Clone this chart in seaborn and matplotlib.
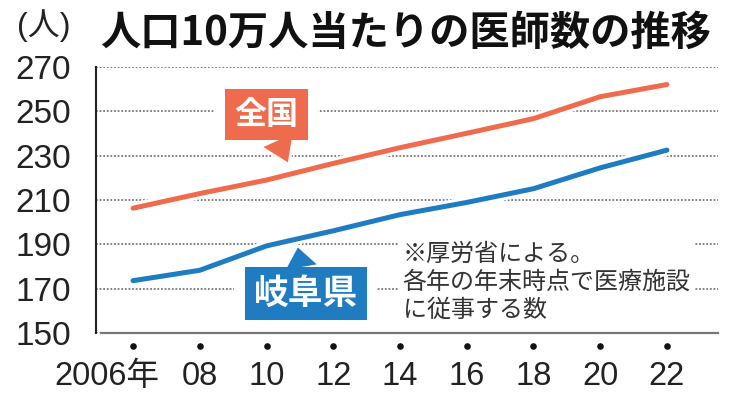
import numpy as np
import pandas as pd
import matplotlib
matplotlib.use("Agg")
import matplotlib.pyplot as plt
import matplotlib.patheffects as pe
import matplotlib.transforms as mtransforms
import seaborn as sns

years = [2006, 2008, 2010, 2012, 2014, 2016, 2018, 2020, 2022]
year_labels = ["2006年", "08", "10", "12", "14", "16", "18", "20", "22"]
national = [206.3, 212.9, 219.0, 226.5, 233.6, 240.1, 246.7, 256.6, 262.1]
gifu = [173.6, 178.3, 189.3, 196.1, 203.4, 208.9, 215.1, 224.5, 232.5]
series_names = ["全国", "岐阜県"]
yticks = [150, 170, 190, 210, 230, 250, 270]
title = "人口10万人当たりの医師数の推移"
unit = "(人)"
note = "※厚労省による。\n各年の年末時点で医療施設\nに従事する数"

ORANGE = "#EE6C4D"
BLUE = "#1F7CC1"
LATIN = "Liberation Sans"
CJK = "Noto Sans CJK JP"

sns.set_theme(style="white")
plt.rcParams["font.family"] = [LATIN, CJK, "DejaVu Sans"]

df = pd.DataFrame({
    "year": years * 2,
    "value": national + gifu,
    "series": [series_names[0]] * len(years) + [series_names[1]] * len(years),
})

fig = plt.figure(figsize=(7.33, 4.0), dpi=100)
ax = fig.add_axes([96 / 733, 1 - 333 / 400, (718 - 96) / 733, (333 - 67) / 400])

halo = [pe.Stroke(linewidth=8, foreground="white"), pe.Normal()]
sns.lineplot(data=df, x="year", y="value", hue="series",
             palette={series_names[0]: ORANGE, series_names[1]: BLUE},
             linewidth=3.6, legend=False, ax=ax, zorder=3,
             path_effects=halo)

ax.set_xlim(2004.89, 2023.53)
ax.set_ylim(150, 270)
ax.set_yticks(yticks)
ax.set_xticks(years)
ax.set_xticklabels(year_labels)
ax.set_xlabel("")
ax.set_ylabel("")

ax.yaxis.grid(True, color="#777777", linestyle=(0, (1, 1)), linewidth=1.3, zorder=0)
ax.xaxis.grid(False)
ax.set_axisbelow(True)

for s in ["top", "right"]:
    ax.spines[s].set_visible(False)
ax.spines["left"].set_color("#222222")
ax.spines["left"].set_linewidth(1.5)
ax.spines["bottom"].set_color("#777777")
ax.spines["bottom"].set_linewidth(1.6)
ax.spines["bottom"].set_bounds(2005.04, 2023.53)

ax.tick_params(axis="y", direction="out", length=12, width=1.4, color="#222222",
               pad=6, labelsize=24, labelcolor="#222222")
ax.tick_params(axis="x", length=0, pad=20, labelsize=23.5, labelcolor="#222222")
for lab in ax.get_yticklabels():
    lab.set_fontfamily([LATIN, CJK])
for lab in ax.get_xticklabels():
    lab.set_fontfamily([LATIN, CJK])
first = ax.get_xticklabels()[0]
first.set_transform(first.get_transform() +
                    mtransforms.ScaledTranslation(-26 / 100, 0, fig.dpi_scale_trans))

# dots above the tick labels
trans = mtransforms.blended_transform_factory(ax.transData, ax.transAxes)
ax.scatter(years, [-0.05] * len(years), s=14, color="#111111", transform=trans,
           clip_on=False, zorder=5)


def callout(text, tip, center, color, size, pad, tail):
    # white margin behind the box (breaks the gridlines like the original)
    ax.text(center[0], center[1], text, ha="center", va="center", fontsize=size,
            fontweight="bold", color="white", family=[CJK], zorder=1,
            bbox=dict(boxstyle=f"square,pad={pad + 0.3}", fc="white", ec="none"))
    ann = ax.annotate(text, xy=tip, xytext=center, ha="center", va="center",
                      fontsize=size, fontweight="bold", color="white",
                      family=[CJK], zorder=6,
                      bbox=dict(boxstyle=f"square,pad={pad}", fc=color, ec="none"),
                      arrowprops=dict(arrowstyle=f"wedge,tail_width={tail},shrink_factor=0.5",
                                      fc=color, ec="none", shrinkA=0, shrinkB=0))
    ann.arrow_patch.set_path_effects([pe.Stroke(linewidth=4, foreground="white"),
                                      pe.Normal()])
    return ann


callout(series_names[0], (2010.64, 227.0), (2010.0, 248.4), ORANGE, 23, 0.3, 1.0)
callout(series_names[1], (2010.94, 188.6), (2011.18, 167.8), BLUE, 25, 0.26, 0.9)

ax.text(2014.08, 173.0, note, ha="left", va="center", fontsize=17.3,
        color="#333333", family=[CJK], linespacing=1.12, zorder=4,
        bbox=dict(boxstyle="square,pad=0.2", fc="white", ec="none"))

fig.text(100 / 733, 1 - 33 / 400, title, ha="left", va="center", fontsize=29,
         fontweight="bold", color="#111111", family=[CJK])
fig.text(17 / 733, 1 - 26 / 400, unit, ha="left", va="center", fontsize=23,
         color="#222222", family=[LATIN, CJK])

fig.savefig("out.png", dpi=100)
